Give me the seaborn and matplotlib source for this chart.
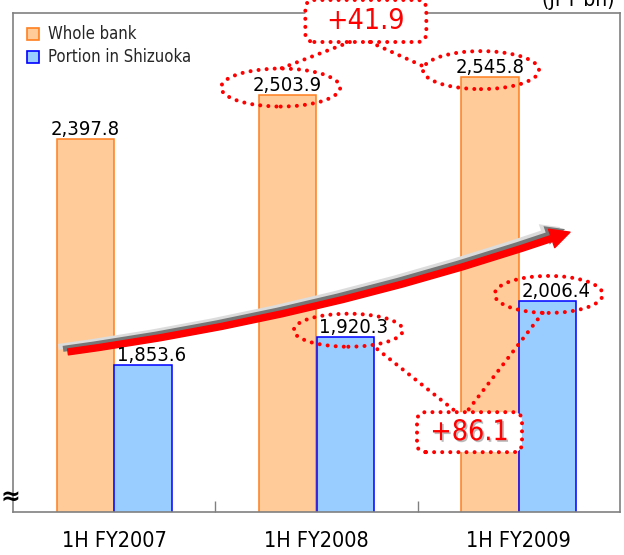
import matplotlib
matplotlib.use("Agg")
import matplotlib.pyplot as plt
import matplotlib.patches as mpatches
import matplotlib.transforms as mtransforms
import matplotlib.patheffects as pe
from matplotlib.lines import Line2D
import pandas as pd
import seaborn as sns

# ---- data -------------------------------------------------------------
periods = ["1H FY2007", "1H FY2008", "1H FY2009"]
whole_bank = [2397.8, 2503.9, 2545.8]
shizuoka = [1853.6, 1920.3, 2006.4]
series_names = ["Whole bank", "Portion in Shizuoka"]
unit_label = "(JPY bn)"
y_range = (1500, 2700)

df = pd.DataFrame({
    "period": periods * 2,
    "series": [series_names[0]] * len(periods) + [series_names[1]] * len(periods),
    "value": whole_bank + shizuoka,
})

# ---- style ------------------------------------------------------------
sns.set_style("white")
plt.rcParams["font.family"] = ["DejaVu Sans"]
plt.rcParams["font.stretch"] = "condensed"

W, H = 624, 555
fig = plt.figure(figsize=(W / 100, H / 100), dpi=100)
ax = fig.add_axes([13 / W, 1 - 512 / H, (620 - 13) / W, (512 - 13) / H])

fills = ["#ffcc99", "#99ccff"]
edges = ["#ff7f1f", "#0000ff"]
sns.barplot(data=df, x="period", y="value", hue="series", hue_order=series_names,
            order=periods, palette=fills, saturation=1, width=0.57,
            linewidth=1.1, ax=ax, zorder=2, legend=False)
for cont, ec in zip(ax.containers, edges):
    for bar in cont:
        bar.set_edgecolor(ec)

ax.set_xlim(-0.5, len(periods) - 0.5)
ax.set_ylim(*y_range)
ax.set_xlabel("")
ax.set_ylabel("")
ax.set_yticks([])
for s in ax.spines.values():
    s.set_color("#808080")
    s.set_linewidth(1.2)

ax.tick_params(axis="x", which="major", length=0, pad=14, labelsize=15.5, labelcolor="black")
ax.set_xticks([i + 0.5 for i in range(len(periods) - 1)], minor=True)
ax.tick_params(axis="x", which="minor", bottom=True, direction="in", length=8,
               width=1, color="#808080")

# legend
handles = [mpatches.Patch(facecolor=f, edgecolor=e, linewidth=1.2) for f, e in zip(fills, edges)]
ax.legend(handles, series_names, loc="upper left", bbox_to_anchor=(0.023, 0.975),
          frameon=False, fontsize=12, handlelength=0.75, handleheight=0.75,
          handletextpad=0.5, labelspacing=0.3, borderpad=0, borderaxespad=0)

# value labels
label_dx = [0, 6]
for i, (cont, vals) in enumerate(zip(ax.containers, [whole_bank, shizuoka])):
    for bar, v in zip(cont, vals):
        ax.annotate(f"{v:,.1f}", xy=(bar.get_x() + bar.get_width() / 2, v),
                    xytext=(label_dx[i], 0), textcoords="offset points",
                    ha="center", va="bottom", fontsize=14.5, color="black", zorder=5)

# ---- trend arrow ------------------------------------------------------
trend_start = (-0.228, 1885)
trend_end = (2.253, 2173)
arrow = mpatches.FancyArrowPatch(
    trend_start, trend_end, connectionstyle="arc3,rad=0.05",
    arrowstyle="simple,head_length=14,head_width=14,tail_width=4.3",
    color="#ff0000", shrinkA=0, shrinkB=0, zorder=4,
    path_effects=[pe.SimplePatchShadow(offset=(-7, 3.6), shadow_rgbFace="#dcdcdc", alpha=1),
                  pe.SimplePatchShadow(offset=(-3.6, 2.2), shadow_rgbFace="#777777", alpha=1),
                  pe.Normal()])
ax.add_patch(arrow)

# ---- dotted call-outs (drawn in pixel space) ---------------------------
ident = mtransforms.IdentityTransform()
fig.canvas.draw()
to_px = ax.transData.transform
DOT = dict(color="#ff0000", lw=2.9, ls=(0, (0.01, 2.0)), clip_on=False, zorder=6)


def bar_px(series_idx, period_idx):
    bar = ax.containers[series_idx][period_idx]
    v = [whole_bank, shizuoka][series_idx][period_idx]
    return to_px((bar.get_x() + bar.get_width() / 2, v))


def oval(series_idx, period_idx, dx, w=116, h=37):
    x, y = bar_px(series_idx, period_idx)
    c = (x + dx, y + 7)
    e = mpatches.Ellipse(c, w, h, transform=ident, fill=False, edgecolor="#ff0000",
                         lw=2.9, ls=(0, (0.01, 2.0)), capstyle="round", clip_on=False, zorder=6)
    ax.add_patch(e)
    return c, w, h


def dotted(p, q):
    ln = Line2D([p[0], q[0]], [p[1], q[1]], transform=ident, solid_capstyle="round",
                dash_capstyle="round", **DOT)
    ax.add_line(ln)


def callout_box(center, w, h, text, shadow=False):
    box = mpatches.FancyBboxPatch((center[0] - w / 2, center[1] - h / 2), w, h,
                                  boxstyle="round,pad=0,rounding_size=9", transform=ident,
                                  facecolor="white", edgecolor="#ff0000", lw=2.9,
                                  ls=(0, (0.01, 2.0)), capstyle="round", clip_on=False, zorder=6)
    ax.add_patch(box)
    effects = [pe.SimplePatchShadow(offset=(1.2, -1.2), shadow_rgbFace="#aaaaaa", alpha=0.8),
               pe.Normal()] if shadow else None
    fig.text(center[0] / W, center[1] / H, text, ha="center", va="center", fontsize=20.5,
             color="#ff0000", zorder=7, path_effects=effects)


# whole-bank increase
(o1c, o1w, o1h) = oval(0, 1, -7, 119, 38)
(o2c, o2w, o2h) = oval(0, 2, -9, 116, 38)
gain_whole = whole_bank[2] - whole_bank[1]
x_mid = (bar_px(0, 1)[0] + bar_px(0, 2)[0]) / 2 - 23
top_px = to_px((0, y_range[1]))[1]
b1c, b1w, b1h = (x_mid, top_px - 8), 121, 42
callout_box(b1c, b1w, b1h, f"+{gain_whole:.1f}")
dotted((b1c[0] - 16, b1c[1] - b1h / 2), (o1c[0], o1c[1] + o1h / 2))
dotted((b1c[0] + 4, b1c[1] - b1h / 2), (o2c[0] - o2w / 2, o2c[1] + 4))

# Shizuoka increase
(o3c, o3w, o3h) = oval(1, 1, 3, 109, 33)
(o4c, o4w, o4h) = oval(1, 2, 1, 108, 37)
gain_shiz = shizuoka[2] - shizuoka[1]
x_mid2 = (bar_px(1, 1)[0] + bar_px(1, 2)[0]) / 2 + 23
b2c, b2w, b2h = (x_mid2, to_px((0, 1692))[1]), 105, 40
dotted((o3c[0] + 29, o3c[1] - 19), (b2c[0] - 13, b2c[1] + b2h / 2))
dotted((o4c[0] - 6, o4c[1] - o4h / 2), (b2c[0] - 3, b2c[1] + b2h / 2))
callout_box(b2c, b2w, b2h, f"+{gain_shiz:.1f}", shadow=True)

# ---- axis-break mark and unit -----------------------------------------
fig.text(10 / W, 1 - 497 / H, "\u2248", ha="center", va="center", fontsize=17,
         fontweight="bold", family="DejaVu Sans", stretch="normal", color="black")
fig.text(615 / W, 1 - 6 / H, unit_label, ha="right", va="baseline", fontsize=15, color="black")

fig.savefig("out.png", dpi=100)
